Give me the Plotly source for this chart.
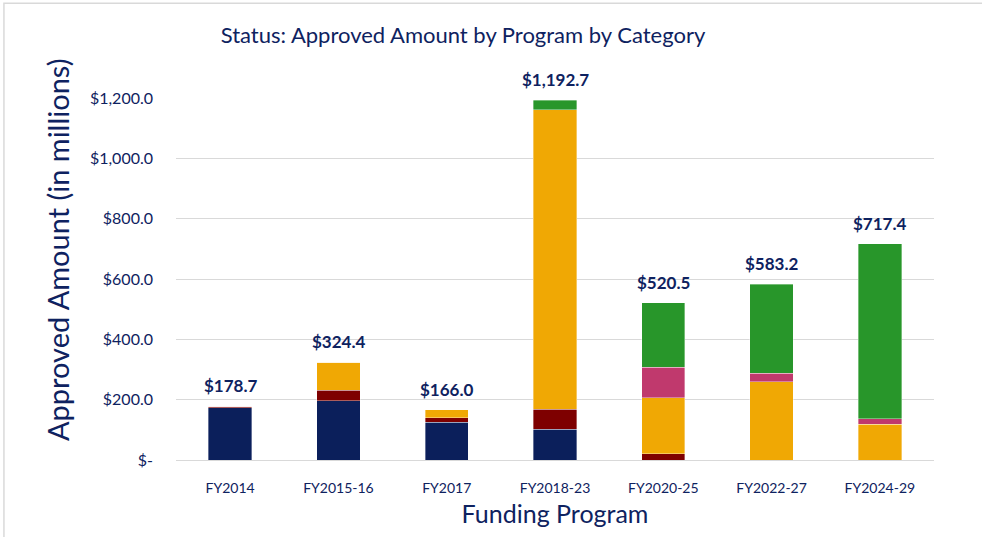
import plotly.graph_objects as go

programs = ["FY2014", "FY2015-16", "FY2017", "FY2018-23", "FY2020-25", "FY2022-27", "FY2024-29"]
cat1 = [174.0, 197.0, 125.0, 102.0, 0.0, 0.0, 0.0]
cat2 = [4.7, 34.0, 15.0, 66.0, 20.0, 0.0, 0.0]
cat3 = [0.0, 93.4, 26.0, 993.0, 186.0, 260.0, 118.0]
cat4 = [0.0, 0.0, 0.0, 0.0, 101.0, 27.0, 19.0]
cat5 = [0.0, 0.0, 0.0, 31.7, 213.5, 296.2, 580.4]
totals = [178.7, 324.4, 166.0, 1192.7, 520.5, 583.2, 717.4]
total_labels = ["$178.7", "$324.4", "$166.0", "$1,192.7", "$520.5", "$583.2", "$717.4"]
series_names = ["Category 1", "Category 2", "Category 3", "Category 4", "Category 5"]
colors = ["#0B1F5B", "#7E0000", "#F0A804", "#C0396D", "#28962A"]
tick_vals = [0, 200, 400, 600, 800, 1000, 1200]
tick_text = ["$-", "$200.0", "$400.0", "$600.0", "$800.0", "$1,000.0", "$1,200.0"]

NAVY = "#0E2260"
FONT = "Lato"

fig = go.Figure()
for name, vals, col in zip(series_names, [cat1, cat2, cat3, cat4, cat5], colors):
    fig.add_trace(go.Bar(x=programs, y=vals, name=name, marker=dict(color=col, line=dict(width=0.6, color="rgba(255,255,255,0.6)")),
                         hovertemplate="%{x}: $%{y:.1f}<extra>" + name + "</extra>"))

for p, t, lbl in zip(programs, totals, total_labels):
    fig.add_annotation(x=p, y=t, text="<b>" + lbl + "</b>", showarrow=False, yanchor="bottom", yshift=8,
                       font=dict(family=FONT, size=17, color=NAVY))

# y-axis title placed like the reference (slightly above the plot centre)
fig.add_annotation(xref="paper", yref="paper", x=(57 - 176) / 758, y=(460 - 250) / 362,
                   text="Approved Amount (in millions)", textangle=-90, showarrow=False,
                   xanchor="center", yanchor="middle", font=dict(family=FONT, size=29, color=NAVY))

fig.add_shape(type="rect", xref="paper", yref="paper", x0=-0.227, x1=1.2, y0=1.262, y1=-0.5,
              line=dict(color="#D9D9D9", width=1.5), layer="below")

fig.update_layout(
    barmode="stack",
    bargap=0.6,
    width=982, height=537,
    margin=dict(l=176, r=48, t=98, b=77),
    paper_bgcolor="white", plot_bgcolor="white",
    showlegend=False,
    font=dict(family=FONT, color=NAVY),
    title=dict(text="Status: Approved Amount by Program by Category", x=463/982, xanchor="center",
               y=1 - 35/537, yanchor="middle", font=dict(family=FONT, size=22, color=NAVY)),
    xaxis=dict(showline=False, ticks="", tickfont=dict(size=14, color=NAVY), ticklabelstandoff=18,
               title=dict(text="Funding Program", font=dict(size=25, color=NAVY), standoff=10)),
    yaxis=dict(range=[0, 1200], tickvals=tick_vals, ticktext=tick_text, showgrid=True, gridcolor="#D9D9D9",
               gridwidth=1.3, zeroline=True, zerolinecolor="#D9D9D9", zerolinewidth=1.3,
               tickfont=dict(size=16, color=NAVY), ticks="", ticklabelstandoff=22),
)

fig.write_html("out.html")
